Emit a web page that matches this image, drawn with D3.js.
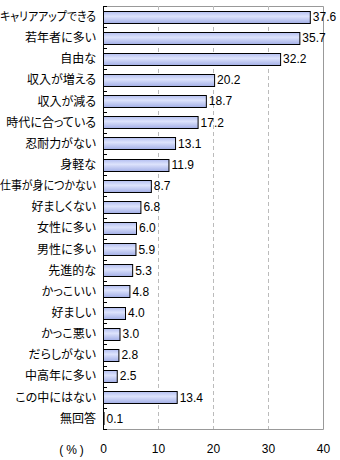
<!DOCTYPE html>
<html><head><meta charset="utf-8">
<script src="https://cdn.jsdelivr.net/npm/d3@7"></script>
<style>body{margin:0;background:#fff}svg{display:block}text{font-family:"Liberation Sans","Noto Sans CJK JP",sans-serif;font-size:12px;fill:#000}
.cat text{font-family:"Noto Sans CJK JP",sans-serif;font-feature-settings:"palt" 1;}</style>
</head><body><svg id="c" width="340" height="460"></svg>
<script>
const categories = ["キャリアアップできる","若年者に多い","自由な","収入が増える","収入が減る","時代に合っている","忍耐力がない","身軽な","仕事が身につかない","好ましくない","女性に多い","男性に多い","先進的な","かっこいい","好ましい","かっこ悪い","だらしがない","中高年に多い","この中にはない","無回答"];
const values = [37.6,35.7,32.2,20.2,18.7,17.2,13.1,11.9,8.7,6.8,6.0,5.9,5.3,4.8,4.0,3.0,2.8,2.5,13.4,0.1];
const xTicks = [0,10,20,30,40];

const svg = d3.select("#c");
const L = 103, R = 323, T = 6, B = 429;
const x = d3.scaleLinear().domain([0,40]).range([L,R]);
const y = d3.scaleBand().domain(categories).range([T,B]).paddingInner(0.43).paddingOuter(0.215);

const defs = svg.append("defs");
const g = defs.append("linearGradient").attr("id","bg").attr("x1",0).attr("y1",0).attr("x2",0).attr("y2",1);
g.append("stop").attr("offset","0%").attr("stop-color","#b3bef0");
g.append("stop").attr("offset","40%").attr("stop-color","#dde3fc");
g.append("stop").attr("offset","100%").attr("stop-color","#a2aee6");

svg.append("path").attr("d",`M${L},${T}H${R}V${B}H${L}`).attr("fill","none").attr("stroke","#999").attr("stroke-width",1).attr("transform","translate(0.5,0.5)");
svg.append("g").selectAll("line").data(xTicks.slice(1,-1)).join("line")
  .attr("x1",d=>Math.round(x(d))+0.5).attr("x2",d=>Math.round(x(d))+0.5).attr("y1",T).attr("y2",B)
  .attr("stroke","#bbb").attr("stroke-dasharray","4,3");

svg.append("g").selectAll("rect").data(values).join("rect")
  .attr("x",L+0.5).attr("y",(d,i)=>Math.round(y(categories[i]))+0.5)
  .attr("width",d=>Math.max(0,x(d)-L)).attr("height",Math.round(y.bandwidth()))
  .attr("fill","url(#bg)").attr("stroke","#000").attr("stroke-width",1);

svg.append("g").selectAll("text").data(values).join("text")
  .attr("x",d=>x(d)+3).attr("y",(d,i)=>y(categories[i])+y.bandwidth()/2).attr("dy","0.36em")
  .text(d=>d.toFixed(1));

const ya = d3.axisLeft(y).tickSize(0).tickPadding(7);
const ag = svg.append("g").attr("class","cat").attr("transform",`translate(${L},0)`).call(ya);
ag.select(".domain").remove();
ag.selectAll("text").style("font-size","12px").style("font-family",null).attr("dy","0.36em");
ag.selectAll("text").each(function(){
  const w = this.getComputedTextLength();
  if (w > 96) d3.select(this).attr("textLength",96).attr("lengthAdjust","spacingAndGlyphs");
});
svg.append("line").attr("x1",L+0.5).attr("x2",L+0.5).attr("y1",T).attr("y2",B+0.5).attr("stroke","#000");
const bounds = d3.range(categories.length+1).map(i=>T+i*(B-T)/categories.length);
svg.append("g").selectAll("line").data(bounds).join("line")
  .attr("x1",L).attr("x2",L+4).attr("y1",d=>Math.round(d)+0.5).attr("y2",d=>Math.round(d)+0.5).attr("stroke","#000");

const xa = d3.axisBottom(x).tickValues(xTicks).tickSize(0).tickPadding(15).tickFormat(d3.format("d"));
const xg = svg.append("g").attr("transform",`translate(0,${B})`).call(xa);
xg.select(".domain").remove();
xg.selectAll("text").style("font-size","12px");
svg.append("text").attr("x",73).attr("y",B+21).attr("dy","0.36em").attr("text-anchor","middle").style("letter-spacing","3px").text("(%)");
</script></body></html>
